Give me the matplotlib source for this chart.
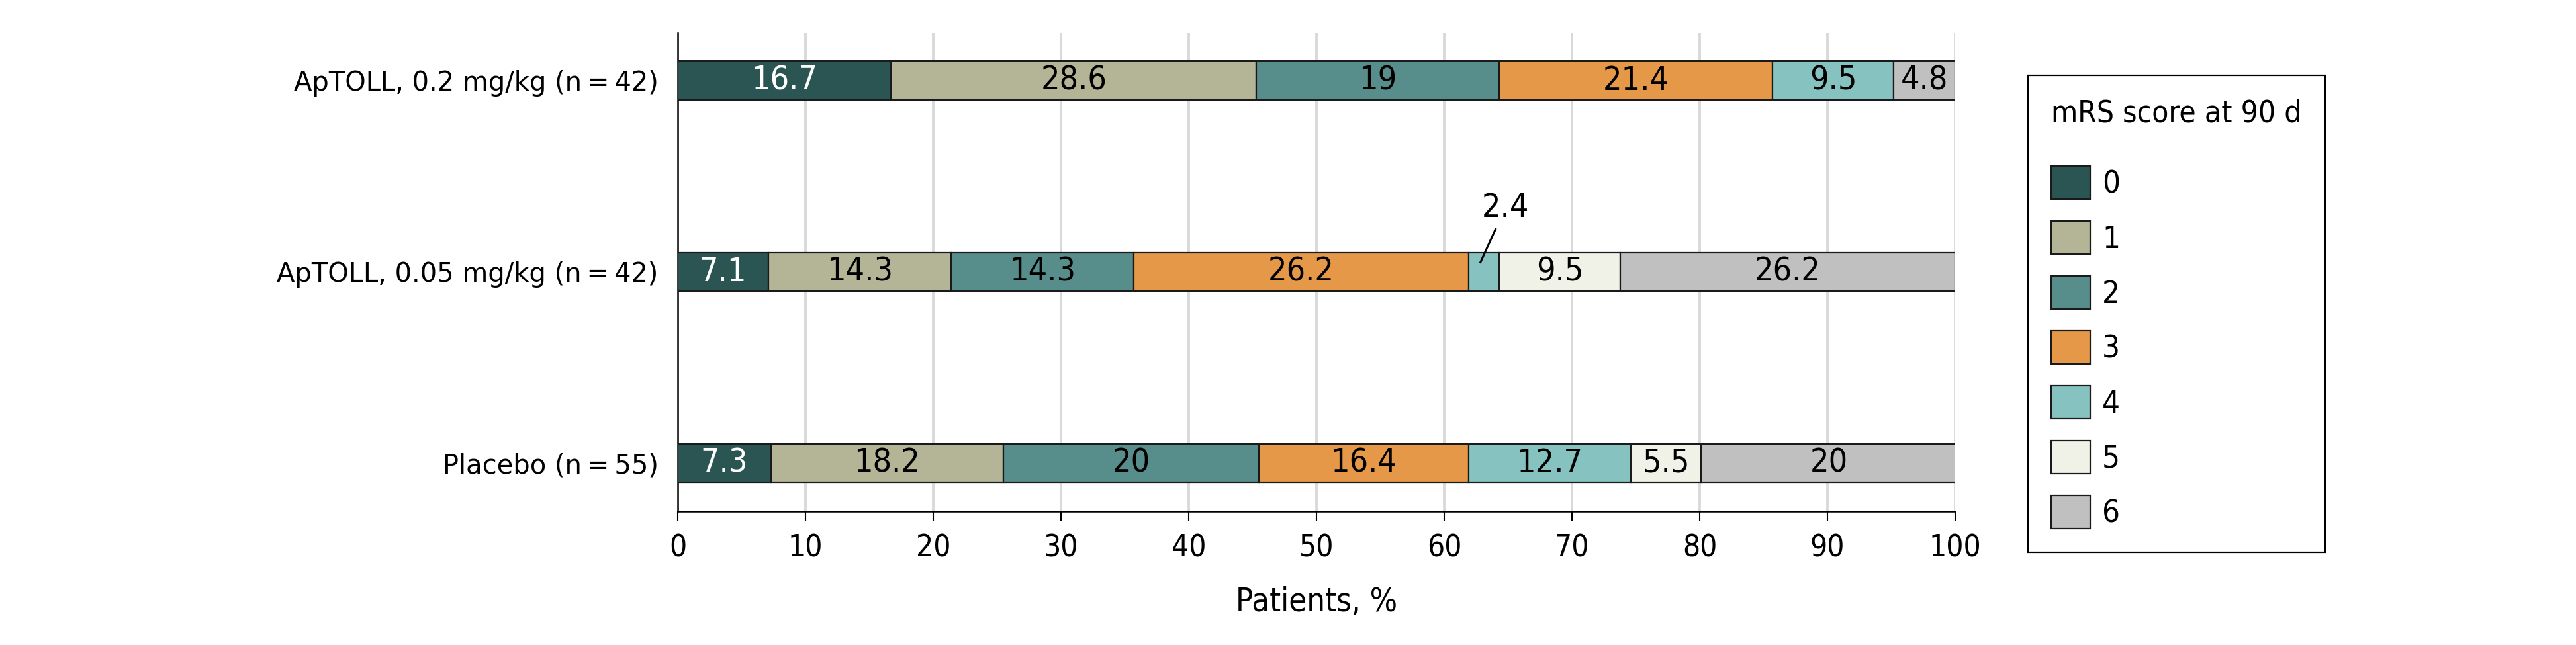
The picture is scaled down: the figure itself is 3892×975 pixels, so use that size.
import matplotlib
matplotlib.use("Agg")
import matplotlib.pyplot as plt
from matplotlib.patches import Patch

plt.rcParams['font.family'] = ['DejaVu Sans']
plt.rcParams['font.stretch'] = 'condensed'

# ---- data ----
groups = ["ApTOLL, 0.2 mg/kg (n\u2009=\u200942)",
          "ApTOLL, 0.05 mg/kg (n\u2009=\u200942)",
          "Placebo (n\u2009=\u200955)"]
scores = ["0", "1", "2", "3", "4", "5", "6"]
vals_02 = [16.7, 28.6, 19, 21.4, 9.5, 0, 4.8]
vals_005 = [7.1, 14.3, 14.3, 26.2, 2.4, 9.5, 26.2]
vals_pl = [7.3, 18.2, 20, 16.4, 12.7, 5.5, 20]
xticks = [0, 10, 20, 30, 40, 50, 60, 70, 80, 90, 100]

colors = ["#2b5553", "#b3b596", "#578d8a", "#e69849", "#86c2bf", "#f0f2e8", "#c0c0c0"]
text_colors = ["white", "black", "black", "black", "black", "black", "black"]

W, H = 3892, 975
DPI = 100
fig = plt.figure(figsize=(W / DPI, H / DPI), dpi=DPI)
ax = fig.add_axes([1024 / W, (H - 773) / H, 1930 / W, 723 / H])

ypos = [2, 1, 0]
data = [vals_02, vals_005, vals_pl]
bar_h = 0.204
val_fs = 36
tick_fs = 33
cat_fs = 28.8
xlab_fs = 35

for y, vals in zip(ypos, data):
    left = 0.0
    for i, v in enumerate(vals):
        if v > 0:
            ax.barh(y, v, left=left, height=bar_h, color=colors[i],
                    edgecolor="#1a1a1a", linewidth=1.6, zorder=3)
            cx = left + v / 2
            lab = f"{v:g}"
            if v >= 3:
                ax.text(cx, y, lab, ha="center", va="center",
                        fontsize=val_fs, color=text_colors[i], zorder=4)
            else:
                ax.plot([cx + 0.95, cx - 0.3], [y + 0.228, y + 0.045],
                        color="black", lw=2.2, zorder=5,
                        solid_capstyle="butt")
                ax.text(cx + 1.68, y + 0.335, lab, ha="center", va="center",
                        fontsize=val_fs, color="black", zorder=5)
        left += v

ax.set_xlim(0, 100)
ax.set_ylim(-0.2526, 2.249)
ax.set_xticks(xticks)
ax.set_xticklabels([str(t) for t in xticks], fontsize=tick_fs)
ax.set_yticks(ypos)
ax.set_yticklabels(groups, fontsize=cat_fs, fontstretch="normal")
ax.tick_params(axis="y", length=0, pad=21)
ax.tick_params(axis="x", length=10.8, width=1.5, pad=13, color="black")
ax.set_xlabel("Patients, %", fontsize=xlab_fs, labelpad=25)

ax.set_axisbelow(True)
ax.xaxis.grid(True, color="#d9d9d9", linewidth=2.8, zorder=0)
for s in ["top", "right"]:
    ax.spines[s].set_visible(False)
for s in ["left", "bottom"]:
    ax.spines[s].set_linewidth(1.8)
    ax.spines[s].set_color("black")

# ---- legend (geometry tuned so the box matches the reference) ----
leg_fs = 34
fs_px = leg_fs * DPI / 72
handles = [Patch(facecolor=c, edgecolor="#1a1a1a", linewidth=1.6) for c in colors]

box_top = H - 114
pitch_target = 83
top_gap_target = 251 - 114      # box top -> first swatch top
bottom_gap_target = 843 - 807   # last swatch bottom -> box bottom


def make_legend(ls, sep, bp):
    lg = ax.legend(handles, scores, title="mRS score at 90 d",
                   loc="upper left", bbox_to_anchor=(3064 / W, box_top / H),
                   bbox_transform=fig.transFigure, borderaxespad=0,
                   fontsize=leg_fs, title_fontsize=33,
                   handlelength=1.25, handleheight=1.25, labelspacing=ls,
                   handletextpad=0.38, borderpad=bp,
                   frameon=True, fancybox=False, framealpha=1,
                   edgecolor="black", alignment="left")
    lg.get_frame().set_linewidth(1.6)
    try:
        lg._legend_box.sep = sep
    except Exception:
        pass
    return lg


ls, sep, bp = 0.466, 42.0, 0.70
leg = make_legend(ls, sep, bp)
for _ in range(5):
    try:
        fig.canvas.draw()
        r = fig.canvas.get_renderer()
        hb = [h.get_window_extent(r) for h in leg.legend_handles]
        fb = leg.get_frame().get_window_extent(r)
        pitch = (hb[0].y0 - hb[-1].y0) / (len(hb) - 1)
        top_gap = fb.y1 - hb[0].y1
        bottom_gap = hb[-1].y0 - fb.y0
        if (abs(pitch - pitch_target) < 0.5 and abs(top_gap - top_gap_target) < 1
                and abs(bottom_gap - bottom_gap_target) < 1):
            break
        new_ls = ls + (pitch_target - pitch) / fs_px
        new_bp = max(0.1, bp + (bottom_gap_target - bottom_gap) / fs_px)
        new_sep = sep + ((top_gap_target - top_gap) - (new_bp - bp) * fs_px) * 72 / DPI
        ls, sep, bp = new_ls, max(0.0, new_sep), new_bp
        leg.remove()
        leg = make_legend(ls, sep, bp)
    except Exception:
        break

fig.savefig("out.png", dpi=DPI)
